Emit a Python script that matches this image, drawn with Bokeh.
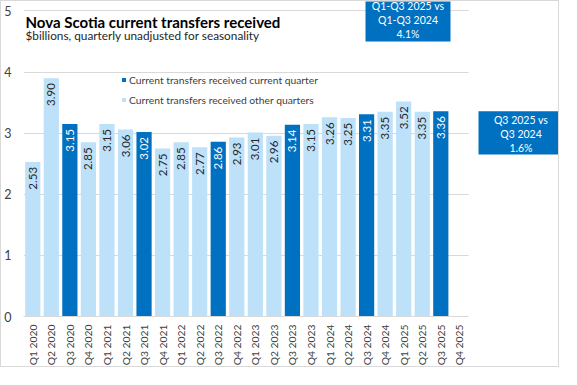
import math
from bokeh.plotting import figure
from bokeh.models import (ColumnDataSource, Label, Legend, LegendItem, Range1d,
                          FixedTicker, BoxAnnotation)
from bokeh.core.properties import value
from bokeh.embed import file_html
from bokeh.resources import INLINE

# ---- data ----
quarters = ["Q1 2020", "Q2 2020", "Q3 2020", "Q4 2020",
            "Q1 2021", "Q2 2021", "Q3 2021", "Q4 2021",
            "Q1 2022", "Q2 2022", "Q3 2022", "Q4 2022",
            "Q1 2023", "Q2 2023", "Q3 2023", "Q4 2023",
            "Q1 2024", "Q2 2024", "Q3 2024", "Q4 2024",
            "Q1 2025", "Q2 2025", "Q3 2025", "Q4 2025"]
values = [2.53, 3.90, 3.15, 2.85,
          3.15, 3.06, 3.02, 2.75,
          2.85, 2.77, 2.86, 2.93,
          3.01, 2.96, 3.14, 3.15,
          3.26, 3.25, 3.31, 3.35,
          3.52, 3.35, 3.36, None]
current_quarter = "Q3"
y_ticks = [0, 1, 2, 3, 4, 5]
title_text = "Nova Scotia current transfers received"
subtitle_text = "$billions, quarterly unadjusted for seasonality"
legend_current = "Current transfers received current quarter"
legend_other = "Current transfers received other quarters"
box_ytd_lines = ["Q1-Q3 2025 vs", "Q1-Q3 2024", "4.1%"]
box_q_lines = ["Q3 2025 vs", "Q3 2024", "1.6%"]

DARK = "#0070C0"
LIGHT = "#BDE1F9"
GRID = "#D9D9D9"
FONT = "Lato"

n = len(quarters)
cur = dict(x=[], v=[], t=[])
oth = dict(x=[], v=[], t=[])
for i, (q, v) in enumerate(zip(quarters, values)):
    if v is None:
        continue
    d = cur if q.startswith(current_quarter) else oth
    d["x"].append(i)
    d["v"].append(v)
    d["t"].append(f"{v:.2f}")
src_cur = ColumnDataSource(cur)
src_oth = ColumnDataSource(oth)

# ---- layout (canvas px) ----
W, H = 559, 367
ML, MB = 19, 48
FW = W - ML          # frame spans to right edge
FB = H - MB          # frame bottom (canvas y); frame top at canvas 0
CW = 18.65           # px per category
Y5 = 9.6             # canvas y of value 5
x_end = -0.5 + FW / CW
y_end = 5 + Y5 * 5 / (FB - Y5)

p = figure(x_range=Range1d(-0.5, x_end), y_range=Range1d(0, y_end),
           width=W, height=H, output_backend="svg", toolbar_location=None,
           min_border_left=ML, min_border_right=0, min_border_top=0, min_border_bottom=MB)
p.styles = {"border": "1px solid #D9D9D9"}
p.outline_line_color = None
p.background_fill_color = "white"
p.border_fill_color = "white"

r_oth = p.vbar(x="x", top="v", width=0.82, source=src_oth, color=LIGHT, line_color=None)
r_cur = p.vbar(x="x", top="v", width=0.82, source=src_cur, color=DARK, line_color=None)

p.text(x="x", y="v", text="t", source=src_oth, angle=math.pi / 2, y_offset=5,
       text_align="right", text_baseline="middle", text_font=value(FONT),
       text_font_size="11.5px", text_color="#262626")
p.text(x="x", y="v", text="t", source=src_cur, angle=math.pi / 2, y_offset=5,
       text_align="right", text_baseline="middle", text_font=value(FONT),
       text_font_size="11.5px", text_color="white")

# axes
p.xgrid.grid_line_color = None
p.ygrid.grid_line_color = GRID
for ax in (p.xaxis, p.yaxis):
    ax.major_tick_line_color = None
    ax.minor_tick_line_color = None
    ax.major_tick_out = 0
    ax.major_tick_in = 0
    ax.minor_tick_out = 0
    ax.minor_tick_in = 0
    ax.axis_label = None
    ax.major_label_text_font = FONT
    ax.major_label_text_color = "#404040"

p.yaxis.ticker = FixedTicker(ticks=y_ticks, minor_ticks=[])
p.yaxis.axis_line_color = None
p.yaxis.major_label_standoff = 12
p.yaxis.major_label_text_font_size = "12.5px"

p.xaxis.ticker = FixedTicker(ticks=list(range(n)), minor_ticks=[])
p.xaxis.major_label_overrides = {i: q for i, q in enumerate(quarters)}
p.xaxis.bounds = (-0.5, n - 0.5)
p.xaxis.axis_line_color = GRID
p.xaxis.major_label_orientation = math.pi / 2
p.xaxis.major_label_standoff = 8
p.xaxis.major_label_text_font_size = "10.3px"

# hide gridlines to the right of the plotted categories
p.add_layout(BoxAnnotation(left=n - 0.5, fill_color="white", fill_alpha=1,
                           line_color=None, level="overlay"))

# legend
legend = Legend(items=[LegendItem(label=legend_current, renderers=[r_cur]),
                       LegendItem(label=legend_other, renderers=[r_oth])],
                location=(98, FB - 108.6), orientation="vertical",
                glyph_width=5, glyph_height=5, label_height=10, spacing=8,
                padding=0, margin=0, label_standoff=3,
                background_fill_alpha=0, border_line_color=None,
                label_text_font=FONT, label_text_font_size="10.3px", label_text_color="#404040")
p.add_layout(legend, "center")

# title / subtitle (screen units relative to frame, y up from frame bottom)
p.add_layout(Label(x=2, y=FB - 24, x_units="screen", y_units="screen",
                   text=title_text, text_font=FONT, text_font_style="bold",
                   text_font_size="15px", text_color="black", text_baseline="alphabetic"))
p.add_layout(Label(x=2, y=FB - 38.4, x_units="screen", y_units="screen",
                   text=subtitle_text, text_font=FONT,
                   text_font_size="11.8px", text_color="#262626", text_baseline="alphabetic"))

# comparison boxes
def add_box(left, right, top, bottom, lines, line_ys):
    p.add_layout(BoxAnnotation(left=left - ML, right=right - ML, top=FB - top, bottom=FB - bottom,
                               left_units="screen", right_units="screen",
                               top_units="screen", bottom_units="screen",
                               fill_color=DARK, fill_alpha=1, line_color=None, level="overlay"))
    cx = (left + right) / 2 - ML
    for txt, ly in zip(lines, line_ys):
        p.add_layout(Label(x=cx, y=FB - ly, x_units="screen", y_units="screen", text=txt,
                           text_font=FONT, text_font_size="10.5px", text_color="white",
                           text_align="center", text_baseline="middle", level="overlay"))

add_box(361, 446, 0, 43.9, box_ytd_lines, [8.0, 22.3, 36.8])
add_box(474, 559, 113.7, 156.9, box_q_lines, [122, 136.5, 150.9])

open("out.html", "w").write(file_html(p, INLINE))
